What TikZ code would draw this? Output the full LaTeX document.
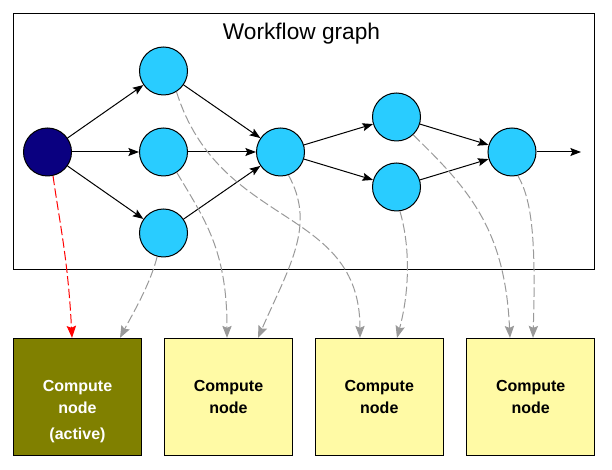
\documentclass[tikz,border=0pt]{standalone}
\usepackage{fontspec}
\setmainfont{Liberation Sans}
\usetikzlibrary{arrows.meta,calc}

\definecolor{navyjob}{RGB}{10,0,128}
\definecolor{skyjob}{RGB}{41,204,255}
\definecolor{olivebox}{RGB}{128,128,0}
\definecolor{paleyellow}{RGB}{255,250,165}
\definecolor{mapgray}{RGB}{153,153,153}

\tikzset{every picture/.style={line width=0.75pt}}
\tikzset{
	job/.style={circle, draw, fill=skyjob, minimum size=36pt, inner sep=0pt},
	startjob/.style={job, fill=navyjob},
	computebox/.style={rectangle, draw, fill=paleyellow, minimum width=96pt, minimum height=87.5pt, align=center, font=\bfseries\fontsize{12}{16.5}\selectfont},
	activebox/.style={computebox, fill=olivebox, text=white},
	flow/.style={-{Stealth[length=8pt,width=6pt,inset=1.5pt]}},
	mapping/.style={draw=mapgray, dash pattern={on 7pt off 2.5pt}, -{Stealth[length=9pt,width=7pt,inset=1.5pt]}},
	activemap/.style={mapping, draw=red}
}

\begin{document}
\begin{tikzpicture}[x=0.75pt,y=0.75pt,yscale=-1,xscale=1]
	\useasboundingbox (0,0) rectangle (612,470);

	%Shape: Rectangle
	\draw (13.3,13.3) rectangle (594.3,269.3);
	% Text Node
	\node[anchor=base, font=\fontsize{17}{20}\selectfont] (title) at (301.5,40) {Workflow graph};

	%Shape: Circle
	\node[startjob] (s) at (47.5,152) {};
	\node[job] (a) at (163.5,71) {};
	\node[job] (b) at (163.5,152) {};
	\node[job] (c) at (163.5,233) {};
	\node[job] (d) at (280.5,152) {};
	\node[job] (e) at (396.5,117) {};
	\node[job] (f) at (396.5,187) {};
	\node[job] (g) at (512,152) {};
	\coordinate (out) at (581,152);

	%Shape: Square
	\node[activebox] (box1) at (77.5,396.7) {Compute\\node};
	\node[computebox] (box2) at (228.5,396.7) {Compute\\node};
	\node[computebox] (box3) at (379.3,396.7) {Compute\\node};
	\node[computebox] (box4) at (530.7,396.7) {Compute\\node};
	% Text Node
	\node[anchor=base, text=white, font=\bfseries\fontsize{12}{16.5}\selectfont] (active) at (77.5,440) {(active)};

	%Straight Lines
	\draw[flow] (s) -- (a);
	\draw[flow] (s) -- (b);
	\draw[flow] (s) -- (c);
	\draw[flow] (a) -- (d);
	\draw[flow] (b) -- (d);
	\draw[flow] (c) -- (d);
	\draw[flow] (d) -- (e);
	\draw[flow] (d) -- (f);
	\draw[flow] (e) -- (g);
	\draw[flow] (f) -- (g);
	\draw[flow] (g) -- (out);

	%Curve Lines
	\draw[activemap] (s.-77) .. controls (60,225) and (68,260) .. ($(box1.north)+(-5.5,0)$);
	\draw[mapping] (c.-105) .. controls (150,285) and (132,315) .. ($(box1.north)+(42.5,0)$);
	\draw[mapping] (b.-57) .. controls (205,220) and (227,250) .. ($(box2.north)+(-1.5,0)$);
	\draw[mapping] (d.-71) .. controls (316,225) and (290,265) .. ($(box2.north)+(29.5,0)$);
	\draw[mapping] (a.-58) .. controls (220,230) and (360,205) .. ($(box3.north)+(-19.3,0)$);
	\draw[mapping] (f.-82) .. controls (410,245) and (410,290) .. ($(box3.north)+(17.7,0)$);
	\draw[mapping] (e.-47) .. controls (470,190) and (505,230) .. ($(box4.north)+(-20.7,0)$);
	\draw[mapping] (g.-76) .. controls (532,200) and (536,240) .. ($(box4.north)+(2.3,0)$);

\end{tikzpicture}
\end{document}
